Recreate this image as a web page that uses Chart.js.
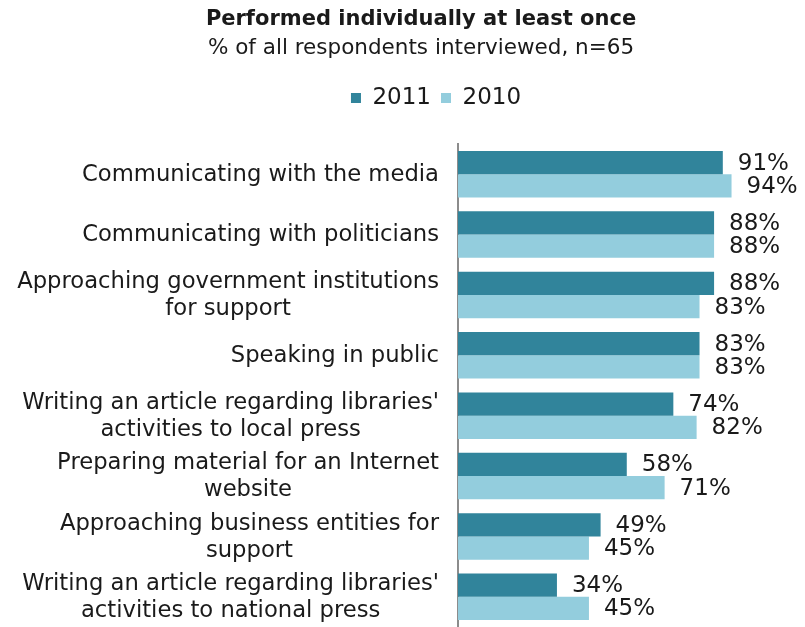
<!DOCTYPE html>
<html>
<head>
<meta charset="utf-8">
<script src="https://cdn.jsdelivr.net/npm/chart.js@4.4.0/dist/chart.umd.min.js"></script>
<style>
  html, body { margin: 0; padding: 0; background: #fff; }
  #wrap { width: 805px; height: 627px; }
</style>
</head>
<body>
<div id="wrap"><canvas id="chart"></canvas></div>
<script>
// categories (multi-line labels) and series values
const categories = [
  ['Communicating with the media'],
  ['Communicating with politicians'],
  ['Approaching government institutions', 'for support'],
  ['Speaking in public'],
  ["Writing an article regarding libraries'", 'activities to local press'],
  ['Preparing material for an Internet', 'website'],
  ['Approaching business entities for', 'support'],
  ["Writing an article regarding libraries'", 'activities to national press']
];
const values2011 = [91, 88, 88, 83, 74, 58, 49, 34];
const values2010 = [94, 88, 83, 83, 82, 71, 45, 45];
const seriesNames = ['2011', '2010'];

const FONT = 'DejaVu Sans';
const TEXT = '#1a1a1a';

// draw category labels: block right-aligned, lines centred inside block
const catLabels = {
  id: 'catLabels',
  afterDraw(chart){
    const ctx = chart.ctx;
    const y = chart.scales.y;
    const rightEdge = chart.chartArea.left - 19;
    const lh = 27;
    ctx.save();
    ctx.font = '22.7px "' + FONT + '"';
    ctx.fillStyle = TEXT;
    ctx.textAlign = 'center';
    ctx.textBaseline = 'middle';
    categories.forEach((lines, i) => {
      const w = Math.max(...lines.map(l => ctx.measureText(l).width));
      const cx = rightEdge - w / 2;
      const cy = y.getPixelForValue(i) + 1;
      const top = cy - (lines.length - 1) * lh / 2;
      lines.forEach((l, k) => ctx.fillText(l, cx, top + k * lh));
    });
    ctx.restore();
  }
};

// value labels to the right of each bar
const valueLabels = {
  id: 'valueLabels',
  afterDatasetsDraw(chart){
    const ctx = chart.ctx;
    ctx.save();
    ctx.font = '23px "' + FONT + '"';
    ctx.fillStyle = TEXT;
    ctx.textAlign = 'left';
    ctx.textBaseline = 'middle';
    chart.data.datasets.forEach((ds, di) => {
      chart.getDatasetMeta(di).data.forEach((bar, i) => {
        ctx.fillText(ds.data[i] + '%', bar.x + 15, bar.y + 1);
      });
    });
    ctx.restore();
  }
};

// extra space under the legend, and legend nudged right a bit
const legendGap = {
  id: 'legendGap',
  beforeInit(chart){
    const lg = chart.legend;
    const fit = lg.fit;
    lg.fit = function(){
      fit.bind(lg)();
      this.height += 24.5;
    };
    const draw = lg.draw;
    lg.draw = function(){
      chart.ctx.save();
      chart.ctx.translate(15, 0);
      draw.bind(lg)();
      chart.ctx.restore();
    };
  }
};

new Chart(document.getElementById('chart'), {
  type: 'bar',
  data: {
    labels: categories.map(c => c.join(' ')),
    datasets: [
      { label: seriesNames[0], data: values2011, backgroundColor: '#31849b' },
      { label: seriesNames[1], data: values2010, backgroundColor: '#93cddd' }
    ]
  },
  options: {
    indexAxis: 'y',
    responsive: true,
    maintainAspectRatio: false,
    animation: false,
    layout: { padding: { left: 93, right: 56, top: 0, bottom: -2 } },
    datasets: { bar: { categoryPercentage: 0.77, barPercentage: 1 } },
    scales: {
      x: { display: false, min: 0, max: 100 },
      y: {
        ticks: { display: false },
        grid: { display: false },
        border: { display: true, color: '#8c8c8c', width: 2 },
        afterFit(s){ s.width = 365; }
      }
    },
    plugins: {
      title: {
        display: true,
        text: 'Performed individually at least once',
        color: TEXT,
        font: { family: FONT, size: 21, weight: 'bold' },
        padding: { top: 7, bottom: 3 }
      },
      subtitle: {
        display: true,
        text: '% of all respondents interviewed, n=65',
        color: TEXT,
        font: { family: FONT, size: 21.5 },
        padding: { top: 0, bottom: 15.5 }
      },
      legend: {
        display: true,
        labels: {
          color: TEXT,
          font: { family: FONT, size: 23 },
          boxWidth: 10, boxHeight: 10,
          padding: 10
        }
      },
      tooltip: { enabled: false }
    }
  },
  plugins: [catLabels, valueLabels, legendGap]
});
</script>
</body>
</html>
